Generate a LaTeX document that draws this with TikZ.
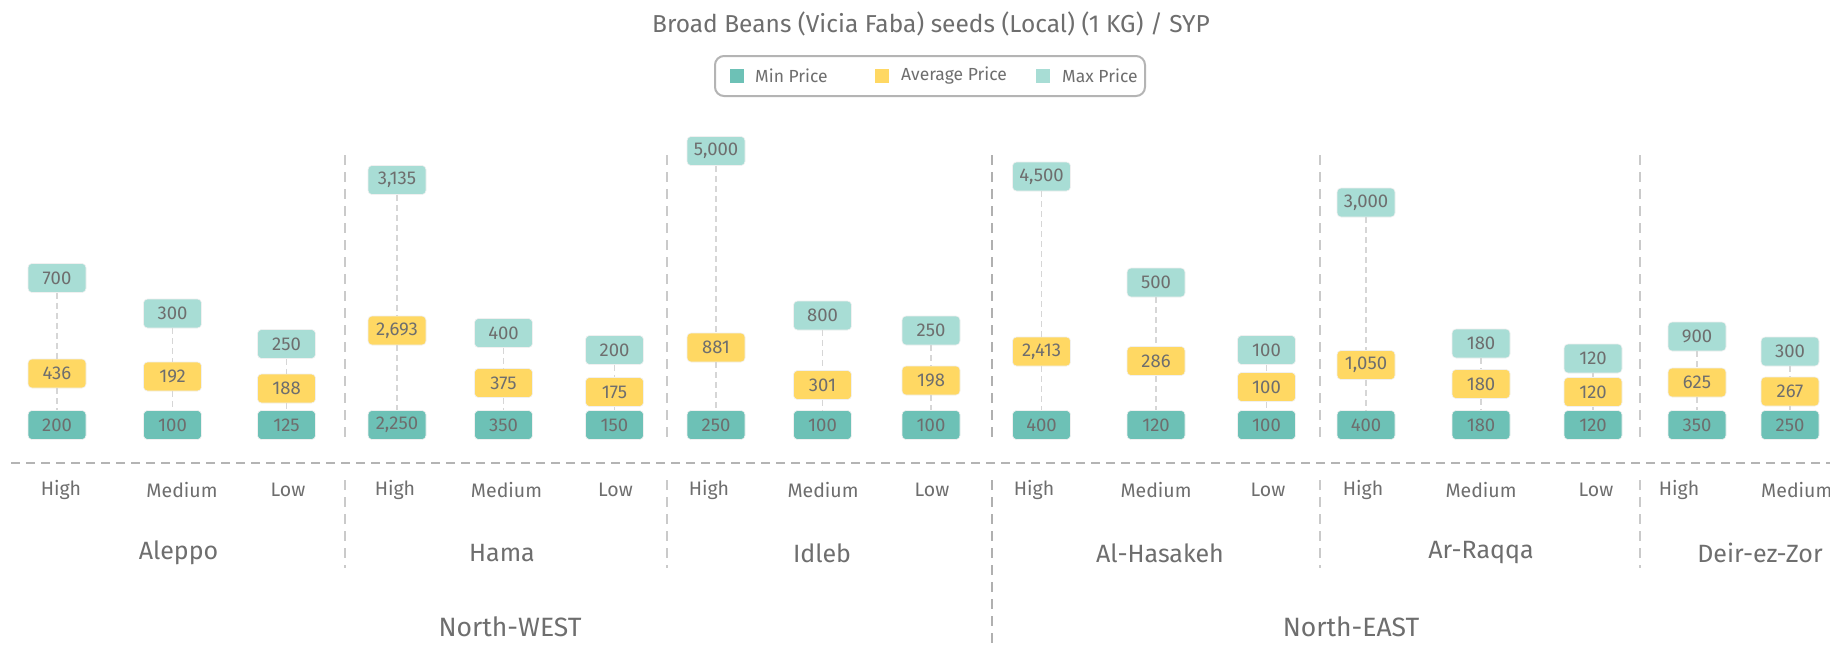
\documentclass[tikz,border=0pt]{standalone}
\usepackage{fontspec}
\setmainfont{Fira Sans}
\definecolor{minc}{HTML}{6DC1B6}
\definecolor{avgc}{HTML}{FFD863}
\definecolor{maxc}{HTML}{A8DDD5}
\definecolor{txt}{HTML}{6E6E6E}
\definecolor{axisc}{HTML}{B4B4B4}
\definecolor{divc}{HTML}{CACACA}
\definecolor{divdark}{HTML}{B0B0B0}
\definecolor{whc}{HTML}{D6D6D6}
\tikzset{
  pbox/.style={rounded corners=4pt, minimum width=58pt, minimum height=29pt, inner sep=0pt,
    text=txt, font=\fontsize{18.5}{18.5}\selectfont, draw=black!6, line width=0.6pt},
  whisk/.style={draw=whc, line width=1.5pt, dash pattern=on 6pt off 4pt},
  divline/.style={draw=divc, line width=1.6pt, dash pattern=on 10pt off 7pt},
  divthick/.style={draw=divdark, line width=1.8pt, dash pattern=on 10pt off 7pt},
  axisline/.style={draw=axisc, line width=2pt, dash pattern=on 9pt off 6pt},
  catlab/.style={text=txt, font=\fontsize{19.5}{20}\selectfont, inner sep=0pt},
  reglab/.style={text=txt, font=\fontsize{25}{26}\selectfont, inner sep=0pt},
  zonelab/.style={text=txt, font=\fontsize{26.5}{27}\selectfont, inner sep=0pt},
  leglab/.style={text=txt, font=\fontsize{17.5}{18}\selectfont, inner sep=0pt, anchor=west},
  legsq/.style={minimum width=14pt, minimum height=14pt, inner sep=0pt},
}
\newcommand\pbar[7]{%
  \node[pbox,fill=maxc] (#1max) at (#2,#3) {#4};
  \node[pbox,fill=avgc] (#1avg) at (#2,#5) {#6};
  \node[pbox,fill=minc] (#1min) at (#2,425) {#7};
  \draw[whisk] (#1max) -- (#1avg);
  \draw[whisk] (#1avg) -- (#1min);
}
\begin{document}
\begin{tikzpicture}[x=1pt,y=-1pt]
\useasboundingbox (0,0) rectangle (1830,648);
\clip (0,0) rectangle (1830,648);
\fill[white] (0,0) rectangle (1830,648);

% title
\node[text=txt, font=\fontsize{24.5}{26}\selectfont, inner sep=0pt] (title) at (931,24) {Broad Beans (Vicia Faba) seeds (Local) (1 KG) / SYP};

% legend
\node[draw=axisc, line width=2pt, rounded corners=9pt, minimum width=430pt, minimum height=40pt] (legend) at (930,76) {};
\node[legsq, fill=minc] (lgmin) at (737,76) {};
\node[leglab] (lgmintxt) at (755,76) {Min Price};
\node[legsq, fill=avgc] (lgavg) at (882,76) {};
\node[leglab] (lgavgtxt) at (901,76) {Average Price};
\node[legsq, fill=maxc] (lgmax) at (1043,76) {};
\node[leglab] (lgmaxtxt) at (1062,76) {Max Price};

% dividers
\foreach \xx in {345,667,1320,1640} {
  \draw[divline] (\xx,155) -- (\xx,443);
  \draw[divline] (\xx,480) -- (\xx,568);
}
\draw[divthick] (992,155) -- (992,443);
\draw[divthick] (992,480) -- (992,648);

% axis
\draw[axisline] (11,463) -- (1830,463);

% bars
\pbar{alh}{57}{278}{700}{373.5}{436}{200}
\pbar{alm}{172.5}{313.5}{300}{376.5}{192}{100}
\pbar{all}{286.5}{344}{250}{388.5}{188}{125}
\pbar{hah}{397}{180}{3,135}{330.5}{2,693}{2,250}
\pbar{ham}{503.5}{333}{400}{383}{375}{350}
\pbar{hal}{614.5}{350}{200}{392}{175}{150}
\pbar{idh}{716}{151}{5,000}{347.5}{881}{250}
\pbar{idm}{822.5}{315.5}{800}{385}{301}{100}
\pbar{idl}{931}{330.5}{250}{380.5}{198}{100}
\pbar{hsh}{1041.5}{176.5}{4,500}{351.5}{2,413}{400}
\pbar{hsm}{1156}{282.5}{500}{361}{286}{120}
\pbar{hsl}{1266.5}{350}{100}{387}{100}{100}
\pbar{rqh}{1366}{202.5}{3,000}{365}{1,050}{400}
\pbar{rqm}{1481}{343.5}{180}{384}{180}{180}
\pbar{rql}{1593}{358.5}{120}{392}{120}{120}
\pbar{dzh}{1697}{336.5}{900}{382.5}{625}{350}
\pbar{dzm}{1790}{351.5}{300}{391.5}{267}{250}

% category labels
\node[catlab] (c1) at (61,490) {High};
\node[catlab] (c2) at (182,490) {Medium};
\node[catlab] (c3) at (288,490) {Low};
\node[catlab] (c4) at (395,490) {High};
\node[catlab] (c5) at (506.5,490) {Medium};
\node[catlab] (c6) at (615.5,490) {Low};
\node[catlab] (c7) at (709,490) {High};
\node[catlab] (c8) at (823,490) {Medium};
\node[catlab] (c9) at (932,490) {Low};
\node[catlab] (c10) at (1034,490) {High};
\node[catlab] (c11) at (1156,490) {Medium};
\node[catlab] (c12) at (1268,490) {Low};
\node[catlab] (c13) at (1363,490) {High};
\node[catlab] (c14) at (1481,490) {Medium};
\node[catlab] (c15) at (1596,490) {Low};
\node[catlab] (c16) at (1679,490) {High};
\node[catlab, anchor=west] (c17) at (1761,490) {Medium};

% region labels
\node[reglab] (r1) at (178.5,553) {Aleppo};
\node[reglab] (r2) at (502,553) {Hama};
\node[reglab] (r3) at (822,553) {Idleb};
\node[reglab] (r4) at (1160,553) {Al-Hasakeh};
\node[reglab] (r5) at (1481,553) {Ar-Raqqa};
\node[reglab] (r6) at (1760,553) {Deir-ez-Zor};

% zone labels
\node[zonelab] (z1) at (510,627) {North-WEST};
\node[zonelab] (z2) at (1351,627) {North-EAST};
\end{tikzpicture}
\end{document}
